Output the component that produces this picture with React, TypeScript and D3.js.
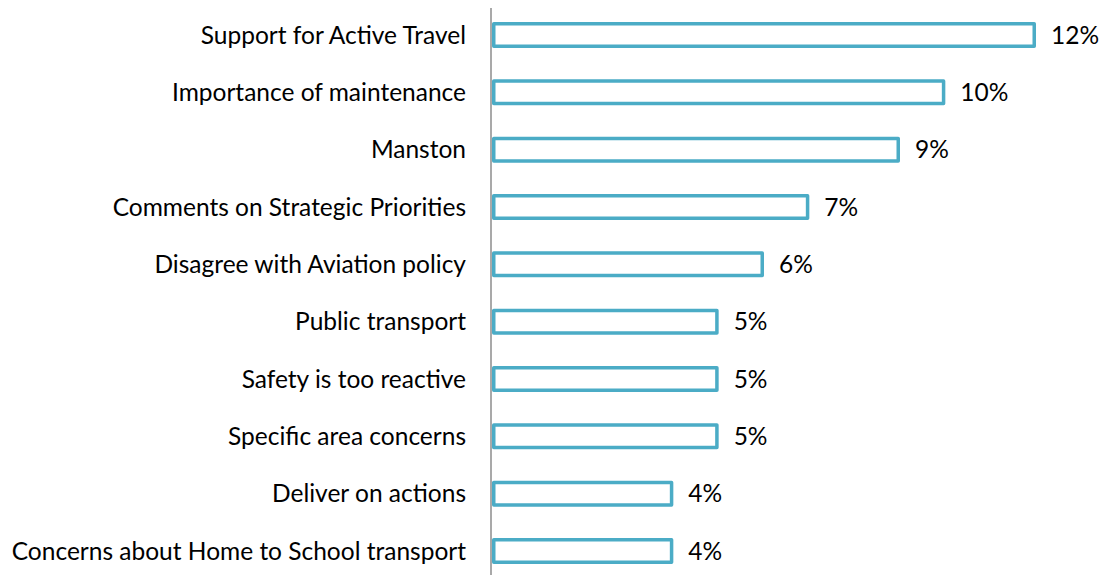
import React, {useEffect, useRef} from 'react';
import * as d3 from 'd3';

const categories = [
  'Support for Active Travel',
  'Importance of maintenance',
  'Manston',
  'Comments on Strategic Priorities',
  'Disagree with Aviation policy',
  'Public transport',
  'Safety is too reactive',
  'Specific area concerns',
  'Deliver on actions',
  'Concerns about Home to School transport',
];
const values = [12, 10, 9, 7, 6, 5, 5, 5, 4, 4];
const valueLabels = ['12%', '10%', '9%', '7%', '6%', '5%', '5%', '5%', '4%', '4%'];

const App = () => {
  const svgRef = useRef<SVGSVGElement>(null);

  useEffect(() => {
    document.body.style.margin = '0';
    const width = 1102;
    const height = 575;
    const left = 492;
    const sw = 3.5;
    const teal = '#4BACC6';
    const font = 'Lato, "Open Sans", sans-serif';

    const svg = d3.select(svgRef.current).attr('width', width).attr('height', height);
    svg.selectAll('*').remove();

    const x = d3.scaleLinear().domain([0, 12]).range([left, 1036]);
    const y = d3
      .scaleBand()
      .domain(categories)
      .range([6.3, 579.7])
      .paddingInner(0.547)
      .paddingOuter(0.2735);

    const rows = categories.map((c, i) => ({c, v: values[i], label: valueLabels[i]}));

    svg
      .selectAll('rect.bar')
      .data(rows)
      .enter()
      .append('rect')
      .attr('class', 'bar')
      .attr('x', left + sw / 2)
      .attr('y', d => y(d.c)! + sw / 2)
      .attr('width', d => x(d.v) - left - sw)
      .attr('height', y.bandwidth() - sw)
      .attr('fill', '#fff')
      .attr('stroke', teal)
      .attr('stroke-width', sw)
      .attr('stroke-linejoin', 'round');

    svg
      .append('line')
      .attr('x1', 491)
      .attr('x2', 491)
      .attr('y1', 8)
      .attr('y2', height)
      .attr('stroke', '#8c8c8c')
      .attr('stroke-width', 1.5);

    svg
      .selectAll('text.cat')
      .data(rows)
      .enter()
      .append('text')
      .attr('class', 'cat')
      .attr('x', 466)
      .attr('y', d => y(d.c)! + y.bandwidth() / 2)
      .attr('dy', '0.35em')
      .attr('text-anchor', 'end')
      .attr('font-family', font)
      .attr('font-size', 24.5)
      .attr('fill', '#000')
      .text(d => d.c);

    svg
      .selectAll('text.val')
      .data(rows)
      .enter()
      .append('text')
      .attr('class', 'val')
      .attr('x', d => x(d.v) + 15)
      .attr('y', d => y(d.c)! + y.bandwidth() / 2)
      .attr('dy', '0.35em')
      .attr('font-family', font)
      .attr('font-size', 24.5)
      .attr('fill', '#000')
      .text(d => d.label);
  }, []);

  return (
    <div>
      <svg ref={svgRef} style={{display: 'block'}}></svg>
    </div>
  );
};

export default App;
